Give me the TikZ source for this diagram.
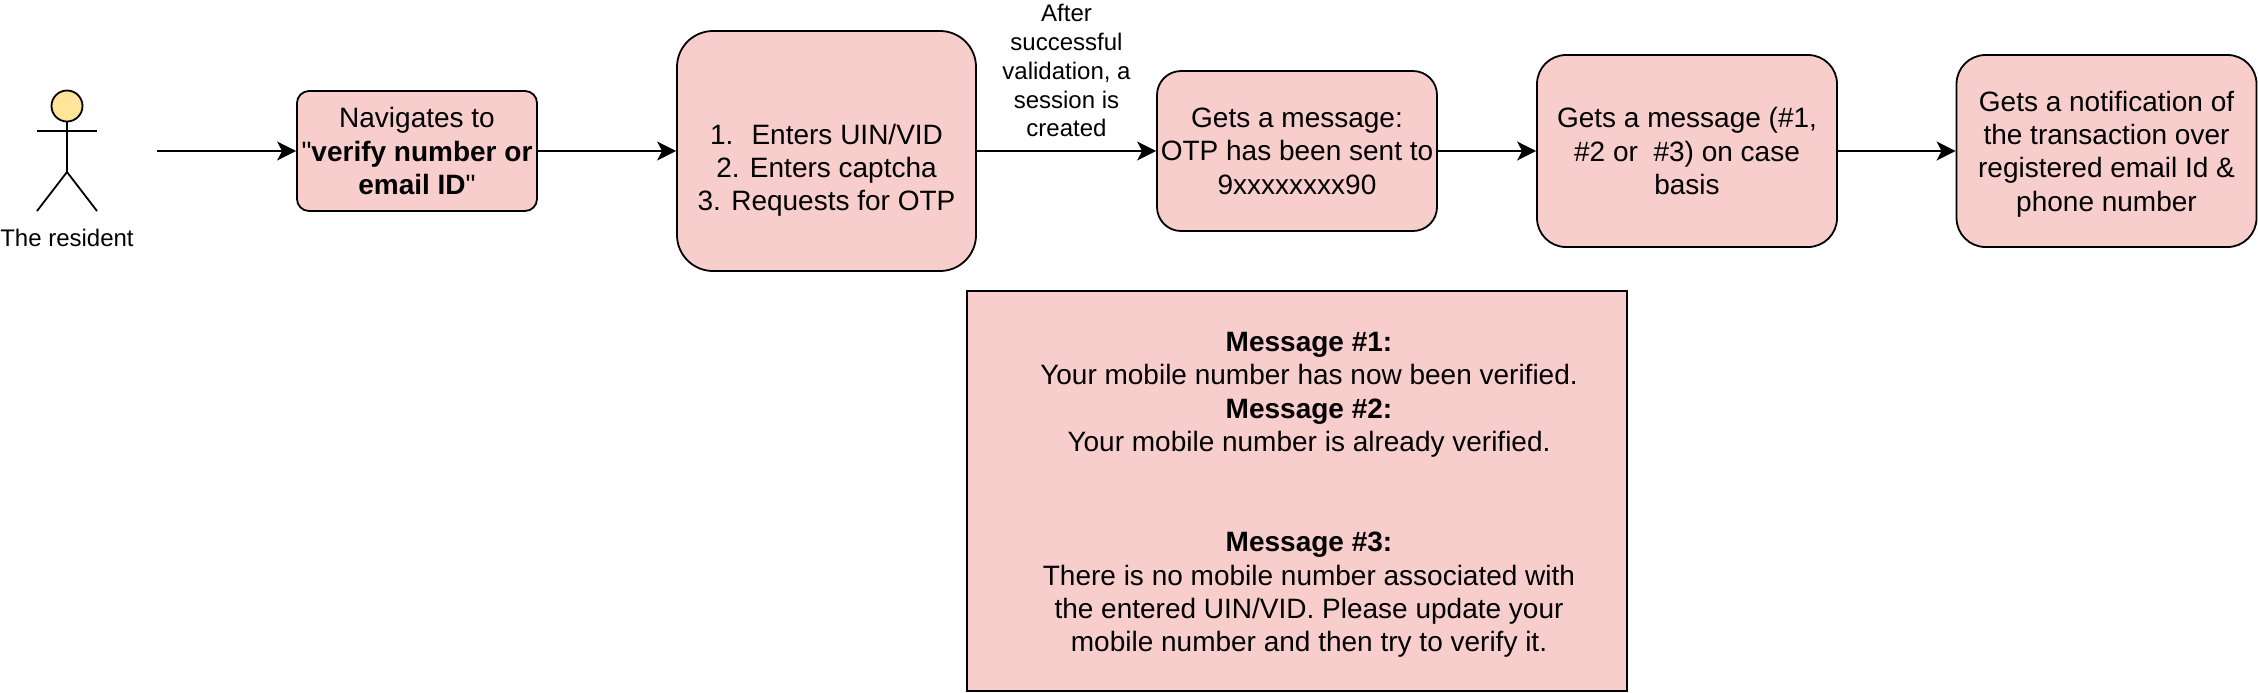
\documentclass[tikz,border=0pt]{standalone}
\usepackage{fontspec}
\setmainfont{Liberation Sans}[Mapping=]
\usetikzlibrary{arrows.meta}
\definecolor{boxpink}{HTML}{F8CECC}
\definecolor{headyellow}{HTML}{FFE599}

\begin{document}
\begin{tikzpicture}[x=0.5pt, y=-0.5pt, line width=0.9pt,
  flowbox/.style={draw, fill=boxpink, align=center, inner sep=0pt, font=\fontsize{14}{16.7}\selectfont},
  flowarrow/.style={-{Stealth[length=9.5pt, width=9.5pt, inset=2.5pt]}},
  smalltext/.style={align=center, inner sep=0pt, font=\fontsize{12}{14.4}\selectfont}]
\useasboundingbox (0,0) rectangle (2258,692);

% The resident
\node[circle, draw, fill=headyellow, minimum size=15.5pt, inner sep=0pt] (head) at (67,106) {};
\coordinate (hip) at (67,172);
\coordinate (armL) at (37,131);
\coordinate (armR) at (97,131);
\coordinate (footL) at (37,211);
\coordinate (footR) at (97,211);
\coordinate (start) at (157,151);
\draw (head) -- (hip);
\draw (armL) -- (armR);
\draw (footL) -- (hip) -- (footR);
\node[smalltext] (resident) at (67,238) {The resident};

% Steps along the top
\node[flowbox, rounded corners=6pt, minimum width=120pt, minimum height=60pt] (verify) at (417,151) {Navigates to\\"\textbf{verify number or}\\\textbf{email ID}"};
\node[flowbox, rounded corners=18pt, minimum width=149.5pt, minimum height=120pt] (enter) at (826.5,151) {\vphantom{G}\\1.~ Enters UIN/VID\\2. Enters captcha\\\smash{3. Requests for OTP}};
\node[flowbox, rounded corners=12pt, minimum width=140pt, minimum height=80pt] (otpmsg) at (1297,151) {Gets a message:\\OTP has been sent to\\9xxxxxxxx90};
\node[flowbox, rounded corners=14.5pt, minimum width=150pt, minimum height=96pt] (casemsg) at (1687,151) {Gets a message (\#1,\\\#2 or~ \#3) on case\\basis};
\node[flowbox, rounded corners=14.5pt, minimum width=150pt, minimum height=96pt] (notify) at (2106.5,151) {Gets a notification of\\the transaction over\\registered email Id \&\\\smash{phone number}};

% Messages
\node[flowbox, minimum width=330pt, minimum height=200pt] (msgbox) at (1297,491) {};
\node[flowbox, draw=none, fill=none] (msgtext) at (1309,492) {\textbf{Message \#1:}\\Your mobile number has now been verified.\\\textbf{Message \#2:}\\Your mobile number is already verified.\\~\\~\\\textbf{Message \#3:}\\There is no mobile number associated with\\the entered UIN/VID. Please update your\\\smash{mobile number and then try to verify it.}};

% Arrows
\draw[flowarrow] (start) -- (verify);
\draw[flowarrow] (verify) -- (enter);
\draw[flowarrow] (enter) -- (otpmsg) node[midway, above, smalltext, yshift=6.5pt] (session) {After\\successful\\validation, a\\session is\\created};
\draw[flowarrow] (otpmsg) -- (casemsg);
\draw[flowarrow] (casemsg) -- (notify);
\end{tikzpicture}
\end{document}
